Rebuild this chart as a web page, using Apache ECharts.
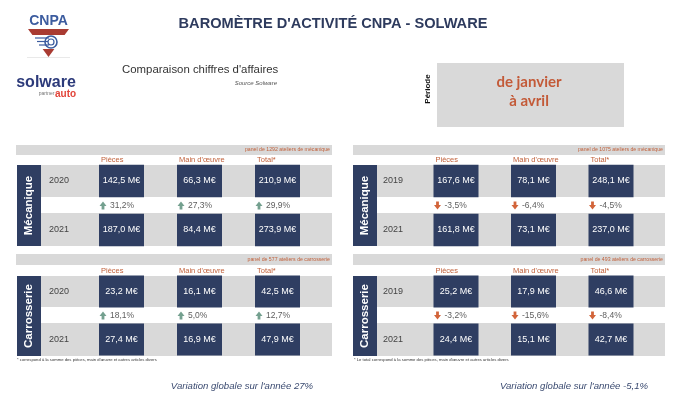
<!DOCTYPE html>
<html><head><meta charset="utf-8">
<script src="https://cdn.jsdelivr.net/npm/echarts@6/dist/echarts.min.js"></script>
<style>html,body{margin:0;padding:0;background:#fff}#c{width:680px;height:404px}</style>
</head><body><div id="c"></div>
<script>
// ---------- DATA ----------
const columns = ['Pièces', "Main d'œuvre", 'Total*'];
const sections = ['Mécanique', 'Carrosserie'];

const yearsLeft = ['2020', '2021'];
const mecaLeftFrom = [142.5, 66.3, 210.9];
const mecaLeftTo = [187.0, 84.4, 273.9];
const mecaLeftVar = [31.2, 27.3, 29.9];
const carroLeftFrom = [23.2, 16.1, 42.5];
const carroLeftTo = [27.4, 16.9, 47.9];
const carroLeftVar = [18.1, 5.0, 12.7];

const yearsRight = ['2019', '2021'];
const mecaRightFrom = [167.6, 78.1, 248.1];
const mecaRightTo = [161.8, 73.1, 237.0];
const mecaRightVar = [-3.5, -6.4, -4.5];
const carroRightFrom = [25.2, 17.9, 46.6];
const carroRightTo = [24.4, 15.1, 42.7];
const carroRightVar = [-3.2, -15.6, -8.4];

const panelNotes = ['panel de 1292 ateliers de mécanique', 'panel de 577 ateliers de carrosserie',
                    'panel de 1075 ateliers de mécanique', 'panel de 493 ateliers de carrosserie'];
const footnotes = ["* correspond à la somme des pièces, main d'œuvre et autres articles divers",
                   "* Le total correspond à la somme des pièces, main d'œuvre et autres articles divers"];
const globalVar = [27, -5.1];
const periodLines = ['de janvier', 'à avril'];

// ---------- STYLE / LAYOUT ----------
const NAVY = '#2f3e62', GRAY = '#d9d9d9', RUST = '#c0603a', FONT = 'Liberation Sans';
const cols = [
  {bandX:16, bandW:316, catX:17, rowX:41, rowW:291, gridLeft:82.5, gridW:234, yearX:49, globalX:242},
  {bandX:353, bandW:312, catX:353, rowX:377, rowW:288, gridLeft:417.25, gridW:232.5, yearX:383, globalX:574}
];
const rows = [
  {bandY:145, bandH:10, headY:160, r1:165, r1h:32, r3:213, r3h:33, gridTop:168.75, gridH:73.5, boxH:32.5},
  {bandY:254, bandH:11, headY:271, r1:276, r1h:31, r3:323, r3h:33, gridTop:279.5, gridH:72, boxH:32}
];
const panels = [
  {c:0, r:0, years:yearsLeft, from:mecaLeftFrom, to:mecaLeftTo, vars:mecaLeftVar, note:panelNotes[0]},
  {c:0, r:1, years:yearsLeft, from:carroLeftFrom, to:carroLeftTo, vars:carroLeftVar, note:panelNotes[1]},
  {c:1, r:0, years:yearsRight, from:mecaRightFrom, to:mecaRightTo, vars:mecaRightVar, note:panelNotes[2]},
  {c:1, r:1, years:yearsRight, from:carroRightFrom, to:carroRightTo, vars:carroRightVar, note:panelNotes[3]}
];

const num = v => (Number.isInteger(v) ? String(v) : v.toFixed(1)).replace('.', ',');
const fmtM = v => v.toFixed(1).replace('.', ',') + ' M€';
const fmtP = v => v.toFixed(1).replace('.', ',') + '%';
const UP = 'path://M5,0L10,5.5L7,5.5L7,10L3,10L3,5.5L0,5.5Z';
const DOWN = 'path://M3,0L7,0L7,4.5L10,4.5L5,10L0,4.5L3,4.5Z';

const grid = [], xAxis = [], yAxis = [], series = [], graphic = [];

panels.forEach((p, gi) => {
  const C = cols[p.c], R = rows[p.r];
  grid.push({left:C.gridLeft, top:R.gridTop, width:C.gridW, height:R.gridH});
  xAxis.push({type:'category', gridIndex:gi, data:columns, show:false});
  yAxis.push({type:'category', gridIndex:gi, data:[p.years[0], '', p.years[1]], inverse:true,
    axisLine:{show:false}, axisTick:{show:false}, splitLine:{show:false},
    axisLabel:{align:'left', margin:C.gridLeft - C.yearX, color:'#444', fontSize:9, fontFamily:FONT}});

  const boxes = [];
  for (let i = 0; i < columns.length; i++) { boxes.push([i, 0, p.from[i]]); boxes.push([i, 2, p.to[i]]); }
  series.push({type:'scatter', xAxisIndex:gi, yAxisIndex:gi, symbol:'rect', symbolSize:[45, R.boxH],
    itemStyle:{color:NAVY, opacity:1}, data:boxes, silent:true, z:3,
    label:{show:true, position:'inside', formatter:q => fmtM(q.value[2]), color:'#fff', fontSize:9, fontFamily:FONT}});
  series.push({type:'scatter', xAxisIndex:gi, yAxisIndex:gi, symbolSize:[7, 8], symbolOffset:[-18.5, 0], silent:true,
    data:p.vars.map((v, i) => ({value:[i, 1, v], symbol:v < 0 ? DOWN : UP,
      itemStyle:{color:v < 0 ? '#d2643a' : '#74a08f', opacity:1}}))});
  series.push({type:'scatter', xAxisIndex:gi, yAxisIndex:gi, symbolSize:1, itemStyle:{color:'rgba(0,0,0,0)'}, silent:true,
    data:p.vars.map((v, i) => [i, 1, v]),
    label:{show:true, position:'inside', align:'left', offset:[-11.5, 0], formatter:q => fmtP(q.value[2]),
      color:'#333', fontSize:8.5, fontFamily:FONT}});

  // decorations
  graphic.push({type:'rect', shape:{x:C.bandX, y:R.bandY, width:C.bandW, height:R.bandH}, style:{fill:GRAY}});
  graphic.push({type:'text', x:C.bandX + C.bandW - 2, y:R.bandY + R.bandH / 2,
    style:{text:p.note, fill:RUST, font:'5.2px ' + FONT, align:'right', verticalAlign:'middle'}});
  graphic.push({type:'rect', shape:{x:C.rowX, y:R.r1, width:C.rowW, height:R.r1h}, style:{fill:GRAY}});
  graphic.push({type:'rect', shape:{x:C.rowX, y:R.r3, width:C.rowW, height:R.r3h}, style:{fill:GRAY}});
  graphic.push({type:'rect', shape:{x:C.catX, y:R.r1, width:24, height:R.r3 + R.r3h - R.r1}, style:{fill:NAVY}});
  graphic.push({type:'text', x:C.catX + 12, y:(R.r1 + R.r3 + R.r3h) / 2, rotation:Math.PI / 2,
    style:{text:sections[p.r], fill:'#fff', font:'bold 11.5px ' + FONT, align:'center', verticalAlign:'middle'}});
  const band = C.gridW / columns.length;
  columns.forEach((name, i) => {
    graphic.push({type:'text', x:C.gridLeft + (i + 0.5) * band - 20.5, y:R.headY,
      style:{text:name, fill:RUST, font:'7.5px ' + FONT, align:'left', verticalAlign:'middle'}});
  });
});

cols.forEach((C, k) => {
  graphic.push({type:'text', x:C.bandX + 1, y:359.5,
    style:{text:footnotes[k], fill:'#333', font:'4.2px ' + FONT, align:'left', verticalAlign:'middle'}});
  graphic.push({type:'text', x:C.globalX, y:386,
    style:{text:'Variation globale sur l\'année ' + num(globalVar[k]) + '%', fill:'#3a4a70',
      font:'italic 9.6px ' + FONT, align:'center', verticalAlign:'middle'}});
});

// header
graphic.push(
  {type:'text', x:333, y:24, style:{text:'BAROMÈTRE D\'ACTIVITÉ CNPA - SOLWARE', fill:'#2e3b5e',
    font:'bold 14.6px ' + FONT, align:'center', verticalAlign:'middle'}},
  {type:'text', x:122, y:70, style:{text:'Comparaison chiffres d\'affaires', fill:'#333',
    font:'11.4px ' + FONT, align:'left', verticalAlign:'middle'}},
  {type:'text', x:277, y:83, style:{text:'Source Solware', fill:'#555',
    font:'italic 6px ' + FONT, align:'right', verticalAlign:'middle'}},
  {type:'rect', shape:{x:437, y:63, width:187, height:64}, style:{fill:GRAY}},
  {type:'text', x:529, y:82, style:{text:periodLines[0], fill:'#c35a38', font:'bold 15px Lato', align:'center', verticalAlign:'middle'}},
  {type:'text', x:529, y:101, style:{text:periodLines[1], fill:'#c35a38', font:'bold 15px Lato', align:'center', verticalAlign:'middle'}},
  {type:'text', x:428, y:89, rotation:Math.PI / 2, style:{text:'Période', fill:'#111', font:'bold 8px ' + FONT, align:'center', verticalAlign:'middle'}},
  // CNPA logo
  {type:'text', x:48.5, y:21, style:{text:'CNPA', fill:'#3c5c9f', font:'bold 14px ' + FONT, align:'center', verticalAlign:'middle'}},
  {type:'polygon', shape:{points:[[28, 29], [69, 29], [48.5, 57]]}, style:{fill:'#a93b32'}},
  {type:'rect', shape:{x:27, y:35, width:44, height:14}, style:{fill:'#fff'}},
  {type:'circle', shape:{cx:51, cy:42, r:6}, style:{fill:'none', stroke:'#3c5c9f', lineWidth:1.6}},
  {type:'circle', shape:{cx:51, cy:42, r:3}, style:{fill:'none', stroke:'#3c5c9f', lineWidth:1.2}},
  {type:'line', shape:{x1:35, y1:38, x2:49, y2:38}, style:{stroke:'#3c5c9f', lineWidth:1.2}},
  {type:'line', shape:{x1:37, y1:41.5, x2:48, y2:41.5}, style:{stroke:'#3c5c9f', lineWidth:1.2}},
  {type:'line', shape:{x1:39, y1:45, x2:49, y2:45}, style:{stroke:'#3c5c9f', lineWidth:1.2}},
  {type:'line', shape:{x1:27, y1:57.5, x2:70, y2:57.5}, style:{stroke:'#e3e3e3', lineWidth:0.8}},
  // Solware logo
  {type:'text', x:46, y:83, style:{text:'solware', fill:'#2c3a7a', font:'bold 16px ' + FONT, align:'center', verticalAlign:'middle'}},
  {type:'text', x:54.5, y:94, style:{text:'partner', fill:'#777', font:'5px ' + FONT, align:'right', verticalAlign:'middle'}},
  {type:'text', x:55, y:94, style:{text:'auto', fill:'#e2453a', font:'bold 10px ' + FONT, align:'left', verticalAlign:'middle'}}
);

const chart = echarts.init(document.getElementById('c'), null, {renderer:'canvas'});
chart.setOption({animation:false, backgroundColor:'#fff', grid, xAxis, yAxis, series, graphic});
</script></body></html>
